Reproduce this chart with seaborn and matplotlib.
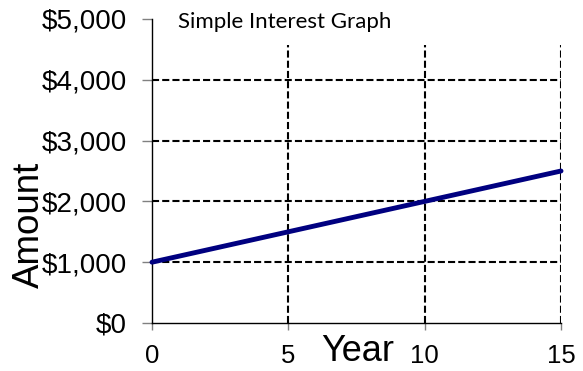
import matplotlib
matplotlib.use("Agg")

import matplotlib.pyplot as plt
import pandas as pd
import seaborn as sns

# simple interest: principal 1000, 10% per year
YEARS = [0, 5, 10, 15]
AMOUNTS = [1000, 1500, 2000, 2500]

X_TICKS = [0, 5, 10, 15]
Y_TICKS = [0, 1000, 2000, 3000, 4000, 5000]
Y_TICK_LABELS = ["$0", "$1,000", "$2,000", "$3,000", "$4,000", "$5,000"]
H_GRID = [1000, 2000, 3000, 4000]
V_GRID = [5, 10, 15]

sns.set_style("white")
plt.rcParams["font.family"] = ["Liberation Sans", "DejaVu Sans"]
plt.rcParams["text.color"] = "black"
plt.rcParams["axes.labelcolor"] = "black"
plt.rcParams["xtick.labelcolor"] = "black"
plt.rcParams["ytick.labelcolor"] = "black"

df = pd.DataFrame({"Year": YEARS, "Amount": AMOUNTS})

fig = plt.figure(figsize=(5.83, 3.71), dpi=100)
ax = fig.add_axes([0.2607, 0.1294, 0.7016, 0.8194])

grid_style = dict(color="black", lw=1.5, linestyle=(0, (3.4, 1.5)), zorder=1)
for y in H_GRID:
    ax.axhline(y, xmin=0, xmax=1, **grid_style)
ax.vlines(V_GRID, 0, 4570, **grid_style)

sns.lineplot(data=df, x="Year", y="Amount", ax=ax, color="#000080",
             lw=3.5, zorder=3, clip_on=False)

ax.set_xlim(0, 15)
ax.set_ylim(0, 5000)
ax.set_xticks(X_TICKS)
ax.set_xticklabels([str(t) for t in X_TICKS], fontsize=18.5)
ax.set_yticks(Y_TICKS)
ax.set_yticklabels(Y_TICK_LABELS, fontsize=20)
ax.tick_params(axis="y", direction="out", length=7, width=1, color="#808080",
               pad=11, left=True)
ax.tick_params(axis="x", direction="out", length=5, width=1, color="#808080",
               pad=10, bottom=True)

for side in ["top", "right"]:
    ax.spines[side].set_visible(False)
for side in ["left", "bottom"]:
    ax.spines[side].set_color("black")
    ax.spines[side].set_linewidth(1.0)

ax.set_xlabel("Year", fontsize=26, va="center")
ax.xaxis.set_label_coords(0.504, -0.095)
ax.set_ylabel("Amount", fontsize=26.5, va="center")
ax.yaxis.set_label_coords(-0.30, 0.322)

fig.text(178 / 583, 1 - 28 / 371, "Simple Interest Graph", fontsize=16,
         family=["Lato", "DejaVu Sans"], ha="left", va="baseline")

fig.savefig("out.png", dpi=100)
plt.close(fig)
